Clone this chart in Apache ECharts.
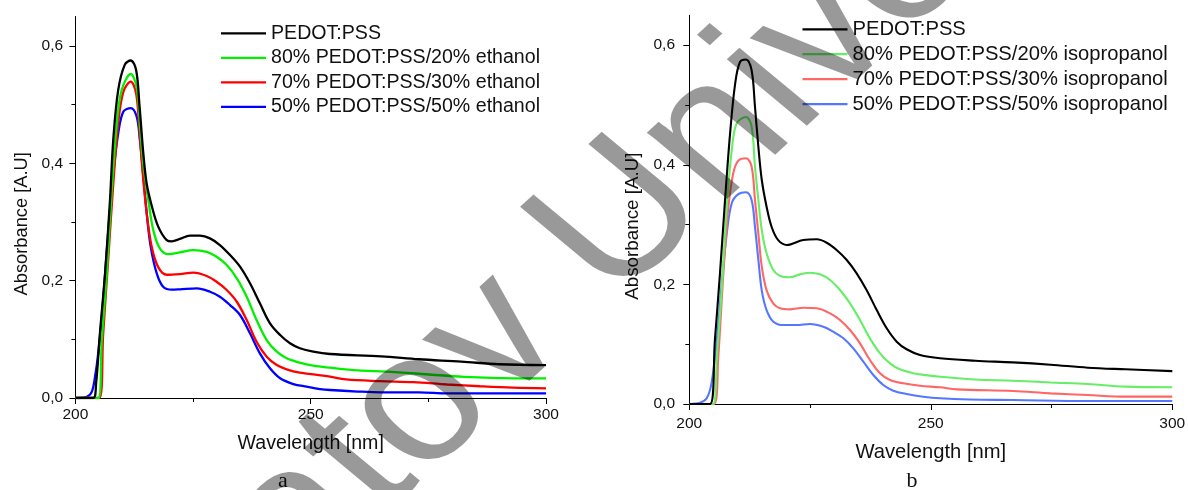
<!DOCTYPE html>
<html>
<head>
<meta charset="utf-8">
<script src="https://cdn.jsdelivr.net/npm/echarts@6/dist/echarts.min.js"></script>
<style>html,body{margin:0;padding:0;background:#fff}#c{width:1188px;height:490px}</style>
</head>
<body>
<div id="c"></div>
<script>
// ---------- tick labels ----------
const xMajorTicks = [200, 250, 300];
const yMajorTicks = [0, 0.2, 0.4, 0.6];
const yMinorTicks = [0.1, 0.3, 0.5];

// ---------- panel a (ethanol) ----------
const namesA = ['PEDOT:PSS', '80% PEDOT:PSS/20% ethanol', '70% PEDOT:PSS/30% ethanol', '50% PEDOT:PSS/50% ethanol'];
const wlA0 = [200, 203.8, 204.4, 205.2, 206.3, 207.35, 208.05, 209.1, 210.5, 211.75, 212.9, 213.6, 214.45, 215.15, 216.2, 217.6, 219.4, 220.5, 222.2, 224.35, 226.5, 228.6, 230.7, 232.85, 234.98, 237.1, 239.2, 241.35, 243.5, 245.6, 247.7, 250.55, 254.1, 265, 273, 282, 290, 300];
const abA0 = [0, 0, 0.025, 0.109, 0.212, 0.337, 0.44, 0.525, 0.568, 0.575, 0.559, 0.5, 0.415, 0.365, 0.328, 0.292, 0.269, 0.267, 0.271, 0.2765, 0.2765, 0.272, 0.2606, 0.2436, 0.2237, 0.1954, 0.1613, 0.1272, 0.1073, 0.0932, 0.0847, 0.0789, 0.075, 0.071, 0.066, 0.062, 0.0575, 0.056];
const wlA1 = [200, 204.9, 205.6, 206.65, 207.7, 208.8, 209.85, 211.75, 213, 213.7, 214.4, 215.5, 216.55, 218, 219.75, 222.2, 225.05, 227.9, 230, 232.15, 234.3, 236.4, 238.5, 240.65, 242.8, 244.9, 247.7, 250.55, 254.1, 260, 266, 274.5, 282.5, 293, 300];
const abA1 = [0, 0, 0.098, 0.211, 0.349, 0.468, 0.525, 0.552, 0.53, 0.468, 0.40, 0.337, 0.286, 0.254, 0.245, 0.248, 0.252, 0.249, 0.2407, 0.2266, 0.204, 0.1726, 0.1329, 0.0988, 0.0789, 0.0676, 0.0601, 0.055, 0.0516, 0.047, 0.045, 0.0405, 0.036, 0.0336, 0.0336];
const wlA2 = [200, 205.1, 205.9, 207, 208.05, 209.1, 210.2, 211.75, 212.9, 213.6, 214.3, 215.15, 216.2, 217.6, 219.4, 222.2, 225.05, 227.9, 230, 232.15, 234.3, 236.4, 238.5, 240.65, 242.8, 244.9, 247.7, 250.55, 254.1, 257.5, 264.7, 271.8, 279, 286, 293, 300];
const abA2 = [0, 0, 0.109, 0.24, 0.365, 0.468, 0.522, 0.539, 0.519, 0.457, 0.383, 0.315, 0.258, 0.223, 0.21, 0.2112, 0.2135, 0.2078, 0.198, 0.184, 0.164, 0.1329, 0.0959, 0.0704, 0.0562, 0.0489, 0.0431, 0.0403, 0.0363, 0.0316, 0.0287, 0.027, 0.023, 0.020, 0.0176, 0.0165];
const wlA3 = [200, 202.4, 203.45, 204.15, 204.9, 205.9, 207, 208.05, 209.1, 210.2, 211.75, 213, 213.7, 214.4, 215.15, 216, 217.3, 218.7, 220.5, 222.2, 225.8, 228.6, 230.7, 232.85, 234.98, 237.1, 239.2, 241.35, 243.5, 246.3, 249.15, 252, 254.1, 260, 265, 273, 279, 300];
const abA3 = [0, 0.002, 0.01, 0.035, 0.08, 0.167, 0.286, 0.382, 0.451, 0.488, 0.494, 0.48, 0.44, 0.382, 0.315, 0.258, 0.212, 0.189, 0.1845, 0.1851, 0.1868, 0.1811, 0.1726, 0.1584, 0.1414, 0.1102, 0.0761, 0.0506, 0.0336, 0.0238, 0.0193, 0.0153, 0.0136, 0.011, 0.0097, 0.0097, 0.008, 0.008];

// ---------- panel b (isopropanol) ----------
const namesB = ['PEDOT:PSS', '80% PEDOT:PSS/20% isopropanol', '70% PEDOT:PSS/30% isopropanol', '50% PEDOT:PSS/50% isopropanol'];
const wlB0 = [200, 204.3, 205.3, 206.35, 207.4, 208.45, 209.5, 210.5, 211.75, 212.9, 213.6, 214.3, 215, 216, 217.05, 218.4, 220.2, 223.6, 226.4, 228.45, 230.5, 232.6, 234.65, 236.7, 238.8, 240.87, 242.94, 245, 247.76, 251.9, 259.2, 267, 274.8, 282.5, 290.3, 300];
const abB0 = [0, 0, 0.107, 0.218, 0.341, 0.453, 0.536, 0.572, 0.576, 0.558, 0.497, 0.43, 0.375, 0.33, 0.296, 0.274, 0.266, 0.2742, 0.2754, 0.2697, 0.2575, 0.2408, 0.2185, 0.1906, 0.1572, 0.1266, 0.1042, 0.0915, 0.0819, 0.0764, 0.0724, 0.0696, 0.0657, 0.0607, 0.058, 0.055];
const wlB1 = [200, 204.9, 205.7, 206.7, 207.75, 208.8, 209.8, 211.75, 212.9, 213.6, 214.3, 215, 216, 217.4, 218.8, 220.85, 222.9, 224.99, 227.06, 229.13, 231.2, 233.27, 235.34, 237.4, 239.48, 241.55, 243.6, 246.4, 249.8, 251.9, 259.2, 267, 274.8, 282.5, 290.3, 300];
const abB1 = [0, 0, 0.079, 0.19, 0.33, 0.425, 0.469, 0.48, 0.464, 0.397, 0.341, 0.291, 0.252, 0.224, 0.214, 0.2119, 0.2168, 0.2196, 0.2168, 0.2074, 0.1906, 0.1684, 0.1405, 0.1098, 0.0848, 0.068, 0.058, 0.0513, 0.0474, 0.0457, 0.041, 0.039, 0.036, 0.0334, 0.029, 0.028];
const wlB2 = [200, 205.1, 206, 207.05, 208.1, 209.1, 210.15, 211.75, 212.9, 213.6, 214.3, 215, 216, 217.4, 218.8, 220.85, 223.6, 226.4, 229.13, 231.2, 233.27, 235.34, 237.4, 239.48, 241.55, 244.3, 247.76, 251.9, 255.4, 267, 274.8, 282.5, 290.3, 300];
const abB2 = [0, 0, 0.079, 0.218, 0.33, 0.386, 0.407, 0.411, 0.397, 0.341, 0.285, 0.23, 0.19, 0.168, 0.16, 0.1583, 0.161, 0.16, 0.1516, 0.1405, 0.1237, 0.1015, 0.0736, 0.0513, 0.0401, 0.0346, 0.0306, 0.0279, 0.0245, 0.0217, 0.0178, 0.015, 0.0123, 0.0123];
const wlB3 = [200, 202.2, 203.6, 204.6, 205.7, 206.7, 207.75, 208.8, 210.15, 211.75, 212.9, 213.6, 214.3, 215, 216, 217.4, 219.5, 222.2, 224.99, 227.75, 229.8, 231.9, 233.96, 236.03, 238.1, 240.17, 242.24, 245, 248.45, 251.9, 258, 267, 282.5, 300];
const abB3 = [0, 0.002, 0.0095, 0.035, 0.107, 0.2, 0.285, 0.336, 0.351, 0.354, 0.341, 0.296, 0.241, 0.19, 0.157, 0.1376, 0.132, 0.132, 0.1338, 0.1293, 0.1209, 0.1099, 0.0931, 0.0707, 0.0485, 0.0318, 0.0222, 0.0167, 0.0122, 0.0095, 0.0075, 0.0067, 0.005, 0.005];

const colorsA = ['#000000', '#00f000', '#ff0000', '#0000ff'];
const colorsB = ['#000000', '#66ee66', '#ff6666', '#5577ff'];

const wlA = [wlA0, wlA1, wlA2, wlA3], abA = [abA0, abA1, abA2, abA3];
const wlB = [wlB0, wlB1, wlB2, wlB3], abB = [abB0, abB1, abB2, abB3];

const FONT = 'Liberation Sans, Arial, sans-serif';
const TXT = '#111';
const fmt = v => v.toFixed(1).replace('.', ',');
const LEGEND_ICON = 'path://M0,0H100V5H0Z';

function pairs(xs, ys) { return xs.map((x, i) => [x, ys[i]]); }

function mkX(grid, margin) {
  return {
    type: 'value', gridIndex: grid, min: 200, max: 300, interval: 50,
    name: 'Wavelength [nm]', nameLocation: 'middle', nameGap: grid === 0 ? 36 : 38,
    nameTextStyle: { fontFamily: FONT, fontSize: grid === 0 ? 19.6 : 20.2, color: TXT },
    axisLine: { show: true, onZero: false, lineStyle: { color: '#000', width: 1 } },
    axisTick: { show: true, length: 6, lineStyle: { color: '#000' } },
    minorTick: { show: true, splitNumber: 2, length: 4, lineStyle: { color: '#000' } },
    axisLabel: { fontFamily: FONT, fontSize: 15.5, color: TXT, margin: margin, showMinLabel: true, showMaxLabel: true },
    splitLine: { show: false }, minorSplitLine: { show: false }
  };
}
function mkYMajor(grid, gap, margin, fs) {
  return {
    type: 'value', gridIndex: grid, min: 0, max: 0.65, position: 'left',
    name: 'Absorbance [A.U]', nameLocation: 'middle', nameGap: gap,
    nameTextStyle: { fontFamily: FONT, fontSize: fs, color: TXT, padding: [0, 33, 0, 0] },
    axisLine: { show: true, onZero: false, lineStyle: { color: '#000', width: 1 } },
    axisTick: { show: true, length: 6, customValues: yMajorTicks, lineStyle: { color: '#000' } },
    axisLabel: { fontFamily: FONT, fontSize: 15.5, color: TXT, margin: margin, customValues: yMajorTicks, formatter: fmt },
    splitLine: { show: false }
  };
}
function mkYMinor(grid) {
  return {
    type: 'value', gridIndex: grid, min: 0, max: 0.65, position: 'left', offset: 0,
    axisLine: { show: false },
    axisTick: { show: true, length: 4, customValues: yMinorTicks, lineStyle: { color: '#000' } },
    axisLabel: { show: false },
    splitLine: { show: false }
  };
}

const series = [];
for (let i = 0; i < 4; i++) {
  series.push({
    type: 'line', name: namesA[i], xAxisIndex: 0, yAxisIndex: 0,
    data: pairs(wlA[i], abA[i]), symbol: 'none', smooth: 0.35,
    lineStyle: { color: colorsA[i], width: 2.3 }, itemStyle: { color: colorsA[i] },
    z: 10 - i, animation: false
  });
}
for (let i = 0; i < 4; i++) {
  series.push({
    type: 'line', name: namesB[i] + (i === 0 ? ' ' : ''), xAxisIndex: 1, yAxisIndex: 2,
    data: pairs(wlB[i], abB[i]), symbol: 'none', smooth: 0.35,
    lineStyle: { color: colorsB[i], width: 2.1 }, itemStyle: { color: colorsB[i] },
    z: 10 - i, animation: false
  });
}

const wmAngle = 46.5 * Math.PI / 180;

const option = {
  backgroundColor: '#fff',
  animation: false,
  grid: [
    { left: 75.4, right: 642, top: 16.5, bottom: 92, outerBoundsMode: 'none', containLabel: false },
    { left: 689.3, right: 15.7, top: 15.3, bottom: 86, outerBoundsMode: 'none', containLabel: false }
  ],
  xAxis: [mkX(0, 8.5), mkX(1, 11.5)],
  yAxis: [mkYMajor(0, 44, 12.3, 18.3), mkYMinor(0), mkYMajor(1, 47, 14.3, 18.8), mkYMinor(1)],
  legend: [
    {
      orient: 'vertical', left: 221, top: 23.3, padding: 0, itemWidth: 45, itemHeight: 20, itemGap: 4.5,
      icon: LEGEND_ICON, data: namesA, selectedMode: false,
      textStyle: { fontFamily: FONT, fontSize: 19.6, color: TXT }
    },
    {
      orient: 'vertical', left: 802.5, top: 19.3, padding: 0, itemWidth: 45, itemHeight: 20, itemGap: 4.9,
      icon: LEGEND_ICON, data: [namesB[0] + ' ', namesB[1], namesB[2], namesB[3]], selectedMode: false,
      formatter: n => n.trim(),
      textStyle: { fontFamily: FONT, fontSize: 20.2, color: TXT }
    }
  ],
  series: series,
  graphic: [
    { type: 'text', x: 283, y: 481, z: 50, style: { text: 'a', fontFamily: 'Liberation Serif, Times New Roman, serif', fontSize: 22, fill: TXT, textAlign: 'center', textVerticalAlign: 'middle' } },
    { type: 'text', x: 912, y: 481, z: 50, style: { text: 'b', fontFamily: 'Liberation Serif, Times New Roman, serif', fontSize: 22, fill: TXT, textAlign: 'center', textVerticalAlign: 'middle' } },
    { type: 'group', x: 0, y: 0, scaleX: 1.1, scaleY: 0.96, z: 100, silent: true,
      children: [
        { type: 'text', x: 32.5, y: 793.4, rotation: wmAngle, z: 100, silent: true,
          style: { text: 'Saratov University', fontFamily: FONT, fontSize: 190, fill: 'rgba(0,0,0,0.4)', textAlign: 'left', textVerticalAlign: 'middle' } }
      ] }
  ]
};

const chart = echarts.init(document.getElementById('c'), null, { renderer: 'canvas' });
chart.setOption(option);
</script>
</body>
</html>
